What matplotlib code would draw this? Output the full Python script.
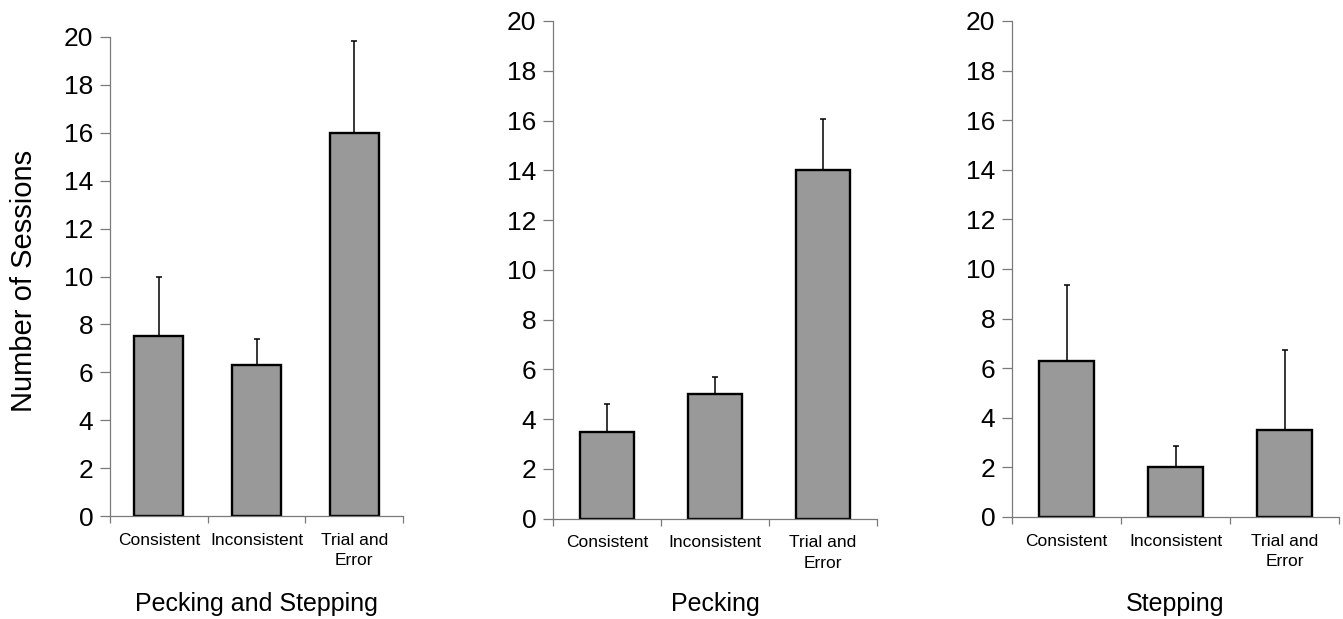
import matplotlib
matplotlib.use("Agg")
import matplotlib.pyplot as plt

plt.rcParams['font.family'] = ['Liberation Sans', 'DejaVu Sans']

categories = ["Consistent", "Inconsistent", "Trial and\nError"]
panel_titles = ["Pecking and Stepping", "Pecking", "Stepping"]

means_pecking_stepping = [7.5, 6.3, 16.0]
err_pecking_stepping = [2.5, 1.1, 3.85]

means_pecking = [3.5, 5.0, 14.0]
err_pecking = [1.12, 0.69, 2.07]

means_stepping = [6.3, 2.0, 3.5]
err_stepping = [3.05, 0.85, 3.23]

y_ticks = [0, 2, 4, 6, 8, 10, 12, 14, 16, 18, 20]

W, H = 1343, 619
fig = plt.figure(figsize=(W / 100, H / 100), dpi=100)

# axes boxes in pixels: left, right, top, bottom
boxes = [(110, 403, 37, 516), (553, 877, 21, 518.7), (1012, 1339, 21, 517)]
means_all = [means_pecking_stepping, means_pecking, means_stepping]
errs_all = [err_pecking_stepping, err_pecking, err_stepping]

spine_col = "#7a7a7a"
for i, ((l, r, t, b), means, errs, title) in enumerate(zip(boxes, means_all, errs_all, panel_titles)):
    ax = fig.add_axes([l / W, 1 - b / H, (r - l) / W, (b - t) / H])
    x = list(range(len(categories)))
    ax.errorbar(x, means, yerr=[[0] * len(errs), errs], fmt='none', ecolor='black',
                elinewidth=1.1, capsize=2.2, capthick=1.1, zorder=1)
    ax.bar(x, means, width=0.5, color='#999999', edgecolor='black', linewidth=1.7, zorder=2)
    ax.set_xlim(-0.5, 2.5)
    ax.set_ylim(0, 20)
    ax.set_yticks(y_ticks)
    ax.set_yticklabels([str(v) for v in y_ticks], fontsize=19)
    ax.set_xticks([-0.5, 0.5, 1.5, 2.5])
    ax.set_xticklabels([])
    ax.set_xticks(x, minor=True)
    ax.set_xticklabels(categories, minor=True, fontsize=12.5, linespacing=1.45)
    ax.tick_params(axis='x', which='minor', length=0, pad=12)
    ax.tick_params(axis='x', which='major', length=5, width=0.9, color=spine_col, direction='out')
    ax.tick_params(axis='y', length=7, width=0.9, color=spine_col, pad=5, direction='out')
    for s in ['top', 'right']:
        ax.spines[s].set_visible(False)
    for s in ['left', 'bottom']:
        ax.spines[s].set_color(spine_col)
        ax.spines[s].set_linewidth(0.9)
    fig.text((l + r) / 2 / W, 1 - 611 / H, title, ha='center', va='baseline', fontsize=18)

fig.text(24 / W, 1 - 281 / H, "Number of Sessions", rotation=90, ha='center', va='center', fontsize=21)

fig.savefig("out.png", dpi=100, facecolor='white')
